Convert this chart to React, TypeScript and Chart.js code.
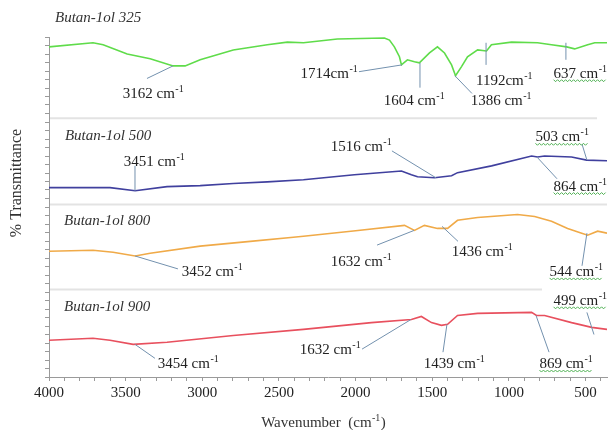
import React, { useEffect, useRef } from "react";
import { Chart, registerables } from "chart.js";
Chart.register(...registerables);

// ---- Spectra (wavenumber cm-1, stacked % transmittance) ----
const WN_325 = [4000, 3713, 3647, 3490, 3340, 3190, 3112, 3014, 2798, 2576, 2445, 2340, 2119, 1812, 1779, 1747, 1714, 1701, 1662, 1616, 1584, 1518, 1466, 1420, 1374, 1348, 1309, 1270, 1204, 1146, 1114, 983, 813, 722, 623, 571, 486, 440, 360];
const T_325 = [97.1, 98.3, 97.7, 95.0, 93.6, 91.5, 91.5, 93.3, 96.2, 97.7, 98.5, 98.3, 99.4, 99.7, 99.1, 97.1, 94.2, 91.8, 93.3, 92.7, 92.4, 95.3, 97.1, 95.3, 91.8, 88.6, 91.3, 94.2, 96.2, 95.9, 97.7, 98.5, 98.3, 97.7, 97.1, 96.5, 97.7, 98.3, 98.3];

const WN_500 = [4000, 3602, 3438, 3230, 3014, 2798, 2576, 2340, 2008, 1701, 1636, 1596, 1485, 1374, 1335, 1113, 852, 813, 767, 591, 493, 360];
const T_500 = [55.7, 55.7, 54.8, 56.0, 56.3, 56.9, 57.4, 58.0, 59.5, 60.6, 59.5, 58.9, 58.6, 59.2, 60.1, 62.1, 65.0, 64.7, 65.0, 64.7, 63.8, 63.6];

const WN_800 = [4000, 3713, 3582, 3438, 3340, 3014, 2687, 2406, 2340, 2000, 1681, 1616, 1551, 1466, 1400, 1335, 1204, 944, 832, 722, 617, 525, 486, 421, 360];
const T_800 = [37.0, 37.3, 36.7, 35.6, 36.4, 38.5, 39.9, 41.1, 41.4, 43.0, 44.6, 43.1, 44.6, 43.7, 43.7, 46.1, 46.9, 47.8, 47.2, 45.8, 43.7, 42.3, 41.7, 42.9, 42.3];

const WN_900 = [4000, 3713, 3602, 3451, 3230, 2798, 2340, 1897, 1636, 1571, 1505, 1440, 1400, 1335, 1204, 852, 820, 767, 591, 460, 360];
const T_900 = [10.8, 11.4, 10.8, 9.6, 10.2, 12.2, 14.0, 16.0, 16.9, 17.8, 16.0, 15.2, 15.5, 18.1, 18.7, 19.0, 18.1, 18.1, 16.0, 14.6, 14.0];

const SERIES_NAMES = ["Butan-1ol 325", "Butan-1ol 500", "Butan-1ol 800", "Butan-1ol 900"];
const SERIES_COLORS = ["#5fdc4a", "#40409e", "#f0aa48", "#e8505e"];
const SERIES_LABEL_WN = [3961, 3896, 3902, 3902];
const SERIES_LABEL_T = [105.5, 70.8, 45.8, 20.7];

const SEP_T = [76.1, 50.7, 25.7];
const SEP_END_WN = [425, 360, 784];

// ---- Peak annotations ----
const PEAK_TEXT = ["3162 cm", "1714cm", "1604 cm", "1386 cm", "1192cm", "637 cm", "3451 cm", "1516 cm", "503 cm", "864 cm", "3452 cm", "1632 cm", "1436 cm", "544 cm", "3454 cm", "1632 cm", "1439 cm", "869 cm", "499 cm"];
const PEAK_LABEL_WN = [3322, 2174, 1619, 1052, 1032, 536, 3315, 1965, 654, 536, 2937, 1965, 1175, 562, 3093, 2167, 1358, 628, 536];
const PEAK_LABEL_T = [83.4, 89.5, 81.6, 81.6, 87.5, 89.5, 63.6, 67.9, 70.8, 56.3, 31.2, 34.1, 37.0, 31.2, 4.1, 8.2, 4.1, 4.1, 22.7];
const LEAD_FROM_WN = [3361, 1978, 1580, 1241, 1149, 628, 3439, 1763, 523, 686, 3159, 1860, 1332, 523, 3309, 1958, 1430, 738, 491];
const LEAD_FROM_T = [87.8, 89.8, 85.1, 83.4, 91.8, 93.3, 62.1, 66.5, 68.5, 58.3, 31.8, 38.8, 39.9, 32.7, 5.5, 8.2, 7.3, 7.3, 19.0];
const LEAD_TO_WN = [3191, 1697, 1580, 1352, 1149, 628, 3439, 1476, 491, 817, 3439, 1619, 1436, 491, 3439, 1639, 1404, 823, 445];
const LEAD_TO_T = [91.5, 91.8, 92.4, 88.6, 98.3, 98.3, 54.8, 58.6, 63.8, 64.7, 35.6, 43.1, 44.3, 42.3, 9.6, 16.9, 15.5, 18.1, 12.5];
const PEAK_WAVY = [false, false, false, false, false, true, false, false, true, true, false, false, false, true, false, false, false, true, true];

const X_TICKS: number[] = [];
for (let v = 4000; v >= 400; v -= 100) X_TICKS.push(v);
const Y_TICKS: number[] = [];
for (let v = 0; v <= 100; v += 2.5) Y_TICKS.push(v);

const SERIF = '"Liberation Serif", "Times New Roman", serif';

function pts(xs: number[], ys: number[]) {
  return xs.map((x, i) => ({ x, y: ys[i] }));
}

function drawCmLabel(ctx: CanvasRenderingContext2D, main: string, cx: number, cy: number, wavy: boolean) {
  const MAIN = `15px ${SERIF}`;
  const SUP = `10px ${SERIF}`;
  ctx.font = MAIN;
  const w1 = ctx.measureText(main).width;
  ctx.font = SUP;
  const w2 = ctx.measureText("-1").width;
  const x0 = cx - (w1 + w2) / 2;
  const base = cy + 5;
  ctx.textAlign = "left";
  ctx.textBaseline = "alphabetic";
  ctx.fillStyle = "#222";
  ctx.font = MAIN;
  ctx.fillText(main, x0, base);
  ctx.font = SUP;
  ctx.fillText("-1", x0 + w1 + 0.5, base - 6);
  if (wavy) {
    ctx.save();
    ctx.strokeStyle = "#4caf50";
    ctx.lineWidth = 1;
    ctx.beginPath();
    const y = base + 3;
    let i = 0;
    for (let x = x0; x <= x0 + w1 + w2; x += 2, i++) {
      const yy = y + (i % 2 === 0 ? -1 : 1);
      if (i === 0) ctx.moveTo(x, yy);
      else ctx.lineTo(x, yy);
    }
    ctx.stroke();
    ctx.restore();
  }
}

const decorPlugin = {
  id: "decor",
  beforeDatasetsDraw(chart: any) {
    const ctx: CanvasRenderingContext2D = chart.ctx;
    const xs = chart.scales.x;
    const ys = chart.scales.y;
    ctx.save();
    ctx.strokeStyle = "#e3e3e3";
    ctx.lineWidth = 2;
    SEP_T.forEach((t, i) => {
      const y = ys.getPixelForValue(t);
      ctx.beginPath();
      ctx.moveTo(xs.getPixelForValue(4000) + 1, y);
      ctx.lineTo(xs.getPixelForValue(SEP_END_WN[i]), y);
      ctx.stroke();
    });
    ctx.restore();
  },
  afterDatasetsDraw(chart: any) {
    const ctx: CanvasRenderingContext2D = chart.ctx;
    const xs = chart.scales.x;
    const ys = chart.scales.y;
    const area = chart.chartArea;
    ctx.save();
    // series names
    ctx.font = `italic 15px ${SERIF}`;
    ctx.fillStyle = "#333";
    ctx.textAlign = "left";
    ctx.textBaseline = "middle";
    SERIES_NAMES.forEach((n, i) => {
      ctx.fillText(n, xs.getPixelForValue(SERIES_LABEL_WN[i]), ys.getPixelForValue(SERIES_LABEL_T[i]));
    });
    // leader lines
    ctx.strokeStyle = "#7391ae";
    ctx.lineWidth = 1;
    PEAK_TEXT.forEach((_, i) => {
      ctx.beginPath();
      ctx.moveTo(xs.getPixelForValue(LEAD_FROM_WN[i]), ys.getPixelForValue(LEAD_FROM_T[i]));
      ctx.lineTo(xs.getPixelForValue(LEAD_TO_WN[i]), ys.getPixelForValue(LEAD_TO_T[i]));
      ctx.stroke();
    });
    PEAK_TEXT.forEach((t, i) => {
      drawCmLabel(ctx, t, xs.getPixelForValue(PEAK_LABEL_WN[i]), ys.getPixelForValue(PEAK_LABEL_T[i]), PEAK_WAVY[i]);
    });
    // y title
    ctx.save();
    ctx.translate(17, area.top + 146);
    ctx.rotate(-Math.PI / 2);
    ctx.font = `16px ${SERIF}`;
    ctx.fillStyle = "#333";
    ctx.textAlign = "center";
    ctx.textBaseline = "middle";
    ctx.fillText("% Transmittance", 0, 0);
    ctx.restore();
    // x title
    const MAIN = `15px ${SERIF}`;
    const SUP = `10px ${SERIF}`;
    const a = "Wavenumber  (cm";
    const b = "-1";
    const c = ")";
    ctx.font = MAIN;
    const wa = ctx.measureText(a).width;
    const wc = ctx.measureText(c).width;
    ctx.font = SUP;
    const wb = ctx.measureText(b).width;
    const cx = (area.left + area.right) / 2 - 5;
    const base = area.bottom + 50;
    let x0 = cx - (wa + wb + wc) / 2;
    ctx.fillStyle = "#333";
    ctx.textAlign = "left";
    ctx.textBaseline = "alphabetic";
    ctx.font = MAIN;
    ctx.fillText(a, x0, base);
    ctx.font = SUP;
    ctx.fillText(b, x0 + wa + 0.5, base - 6);
    ctx.font = MAIN;
    ctx.fillText(c, x0 + wa + wb + 1, base);
    ctx.restore();
  },
};

export default function App() {
  const ref = useRef<HTMLCanvasElement | null>(null);
  useEffect(() => {
    if (!ref.current) return;
    const series = [
      pts(WN_325, T_325),
      pts(WN_500, T_500),
      pts(WN_800, T_800),
      pts(WN_900, T_900),
    ];
    const chart = new Chart(ref.current, {
      type: "scatter",
      data: {
        datasets: series.map((d, i) => ({
          label: SERIES_NAMES[i],
          data: d,
          showLine: true,
          borderColor: SERIES_COLORS[i],
          backgroundColor: SERIES_COLORS[i],
          borderWidth: 1.6,
          pointRadius: 0,
          tension: 0,
        })),
      },
      options: {
        animation: false,
        responsive: false,
        devicePixelRatio: 1,
        layout: { padding: { left: 45, right: 1, top: 37, bottom: 25 } },
        plugins: { legend: { display: false }, tooltip: { enabled: false } },
        scales: {
          x: {
            type: "linear",
            reverse: true,
            min: 360,
            max: 4000,
            afterBuildTicks: (s: any) => {
              s.ticks = X_TICKS.map((v) => ({ value: v }));
            },
            ticks: {
              autoSkip: false,
              maxRotation: 0,
              padding: 3,
              color: "#222",
              font: { family: SERIF, size: 15 },
              callback: (v: any) => (Number(v) % 500 === 0 ? String(v) : ""),
            },
            grid: { drawOnChartArea: false, tickLength: 4, color: "#9a9a9a" },
            border: { color: "#9a9a9a" },
          },
          y: {
            min: 0,
            max: 100,
            afterBuildTicks: (s: any) => {
              s.ticks = Y_TICKS.map((v) => ({ value: v }));
            },
            ticks: { display: false },
            grid: { drawOnChartArea: false, tickLength: 4, color: "#9a9a9a" },
            border: { color: "#9a9a9a" },
          },
        },
      },
      plugins: [decorPlugin],
    } as any);
    return () => chart.destroy();
  }, []);
  return (
    <>
      <style>{`body{margin:0;background:#fff}`}</style>
      <canvas ref={ref} width={608} height={430} style={{ display: "block" }} />
    </>
  );
}
